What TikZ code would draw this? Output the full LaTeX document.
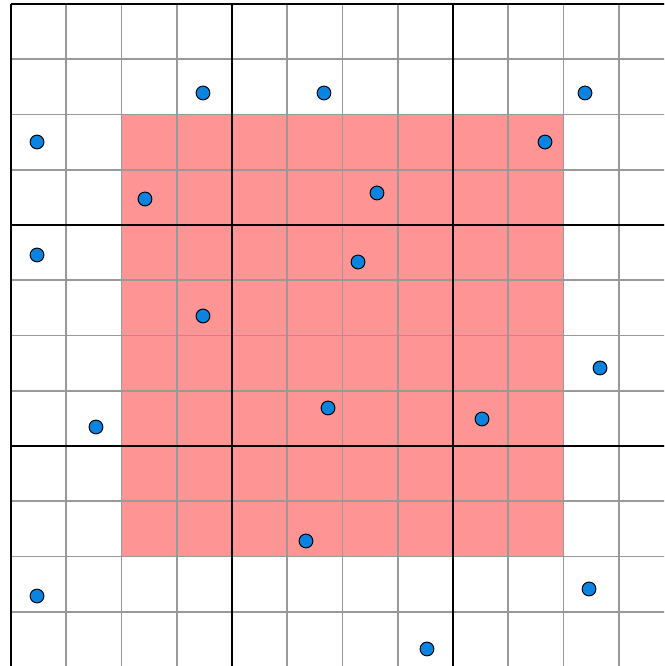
\documentclass[tikz,border=0pt]{standalone}
\usepackage{tikz}
\definecolor{cellred}{HTML}{FF9494}
\definecolor{dotblue}{HTML}{0A84E0}

\begin{document}
\begin{tikzpicture}[y=-1cm,
  finegrid/.style={draw=black!40, line width=0.9pt},
  coarsegrid/.style={draw=black, line width=1.5pt},
  dot/.style={circle, draw=black, line width=0.5pt, fill=dotblue, minimum size=0.25cm, inner sep=0pt}
]
\useasboundingbox (-0.199,-0.072) rectangle (11.819,11.982);
\clip (-0.199,-0.072) rectangle (11.819,11.982);
\fill[white] (-0.199,-0.072) rectangle (11.819,11.982);
% shaded block
\fill[cellred] (2,2) rectangle (10,10);
% grids
\draw[finegrid] (0,0) grid (12,12);
\foreach \k in {0,4,8,12} {
  \draw[coarsegrid] (\k,0) -- (\k,12);
  \draw[coarsegrid] (0,\k) -- (12,\k);
}
% points
\foreach \px/\py [count=\i] in {3.475/1.611, 5.665/1.611, 10.389/1.611, 0.471/2.498,
  9.665/2.498, 2.425/3.529, 6.624/3.421, 0.471/4.543, 6.281/4.670, 3.475/5.647,
  10.661/6.588, 1.538/7.656, 5.738/7.312, 8.525/7.511, 5.339/9.719, 0.471/10.715,
  10.462/10.588, 7.529/11.674}
  \node[dot] (p\i) at (\px,\py) {};
\end{tikzpicture}
\end{document}
